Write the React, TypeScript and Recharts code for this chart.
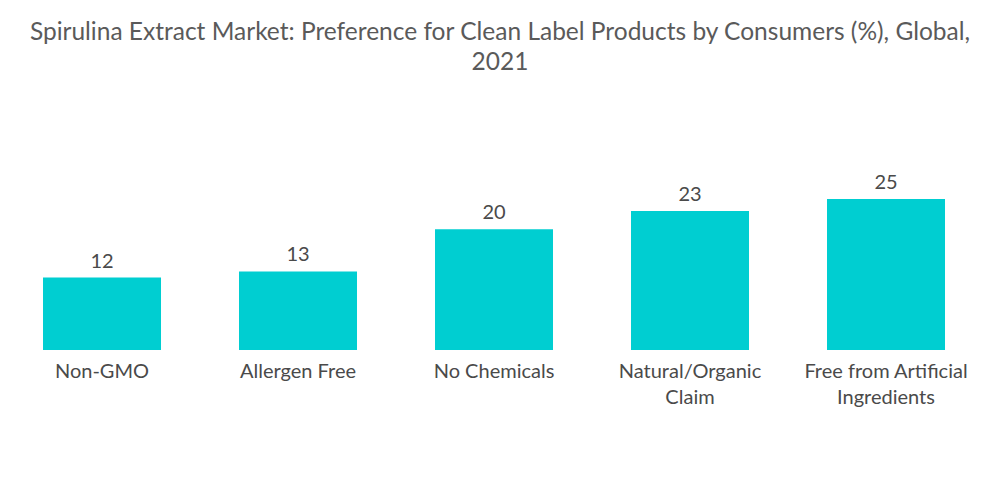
import React from 'react';
import { BarChart, Bar, XAxis, YAxis, LabelList } from 'recharts';

const categories = [
  'Non-GMO',
  'Allergen Free',
  'No Chemicals',
  'Natural/Organic Claim',
  'Free from Artificial Ingredients',
];
const shares = [12, 13, 20, 23, 25];

const data = categories.map((name, i) => ({ name, value: shares[i] }));

const FONT = 'Lato, "Open Sans", sans-serif';
const TICK_SIZE = 20;
const WRAP_WIDTH = 170;

let ctx: CanvasRenderingContext2D | null = null;
function measure(s: string) {
  if (!ctx) ctx = document.createElement('canvas').getContext('2d');
  if (!ctx) return s.length * TICK_SIZE * 0.5;
  ctx.font = `${TICK_SIZE}px ${FONT}`;
  return ctx.measureText(s).width;
}

// greedy word wrap
function wrap(label: string) {
  const lines: string[] = [];
  let cur = '';
  label.split(' ').forEach((w) => {
    const next = cur ? cur + ' ' + w : w;
    if (cur && measure(next) > WRAP_WIDTH) {
      lines.push(cur);
      cur = w;
    } else {
      cur = next;
    }
  });
  if (cur) lines.push(cur);
  return lines;
}

function WrappedTick(props: any) {
  const { x, y, payload } = props;
  const lines = wrap(String(payload.value));
  return (
    <text
      x={x}
      y={y}
      textAnchor="middle"
      fontSize={TICK_SIZE}
      fontFamily={FONT}
      fill="#4a4a4a"
    >
      {lines.map((l, i) => (
        <tspan key={i} x={x} dy={i === 0 ? '0.9em' : 26}>
          {l}
        </tspan>
      ))}
    </text>
  );
}

export default function App() {
  return (
    <div
      style={{
        position: 'absolute',
        top: 0,
        left: 0,
        width: 1000,
        height: 504,
        background: '#fff',
        fontFamily: FONT,
      }}
    >
      <div
        style={{
          position: 'absolute',
          top: 16,
          left: 0,
          width: 1000,
          textAlign: 'center',
          fontSize: 24.5,
          lineHeight: '30px',
          color: '#5a5a5a',
        }}
      >
        Spirulina Extract Market: Preference for Clean Label Products by Consumers (%), Global,
        <br />
        2021
      </div>
      <BarChart
        width={1000}
        height={504}
        data={data}
        margin={{ top: 199, right: 16, bottom: 94, left: 4 }}
        barCategoryGap="19.9%"
      >
        <XAxis
          dataKey="name"
          axisLine={false}
          tickLine={false}
          interval={0}
          tick={<WrappedTick />}
          tickMargin={4}
          height={60}
        />
        <YAxis hide domain={[0, 25]} />
        <Bar dataKey="value" fill="#00CED1" isAnimationActive={false}>
          <LabelList
            dataKey="value"
            position="top"
            offset={10}
            fontSize={20}
            fontFamily={FONT}
            fill="#4a4a4a"
          />
        </Bar>
      </BarChart>
    </div>
  );
}
